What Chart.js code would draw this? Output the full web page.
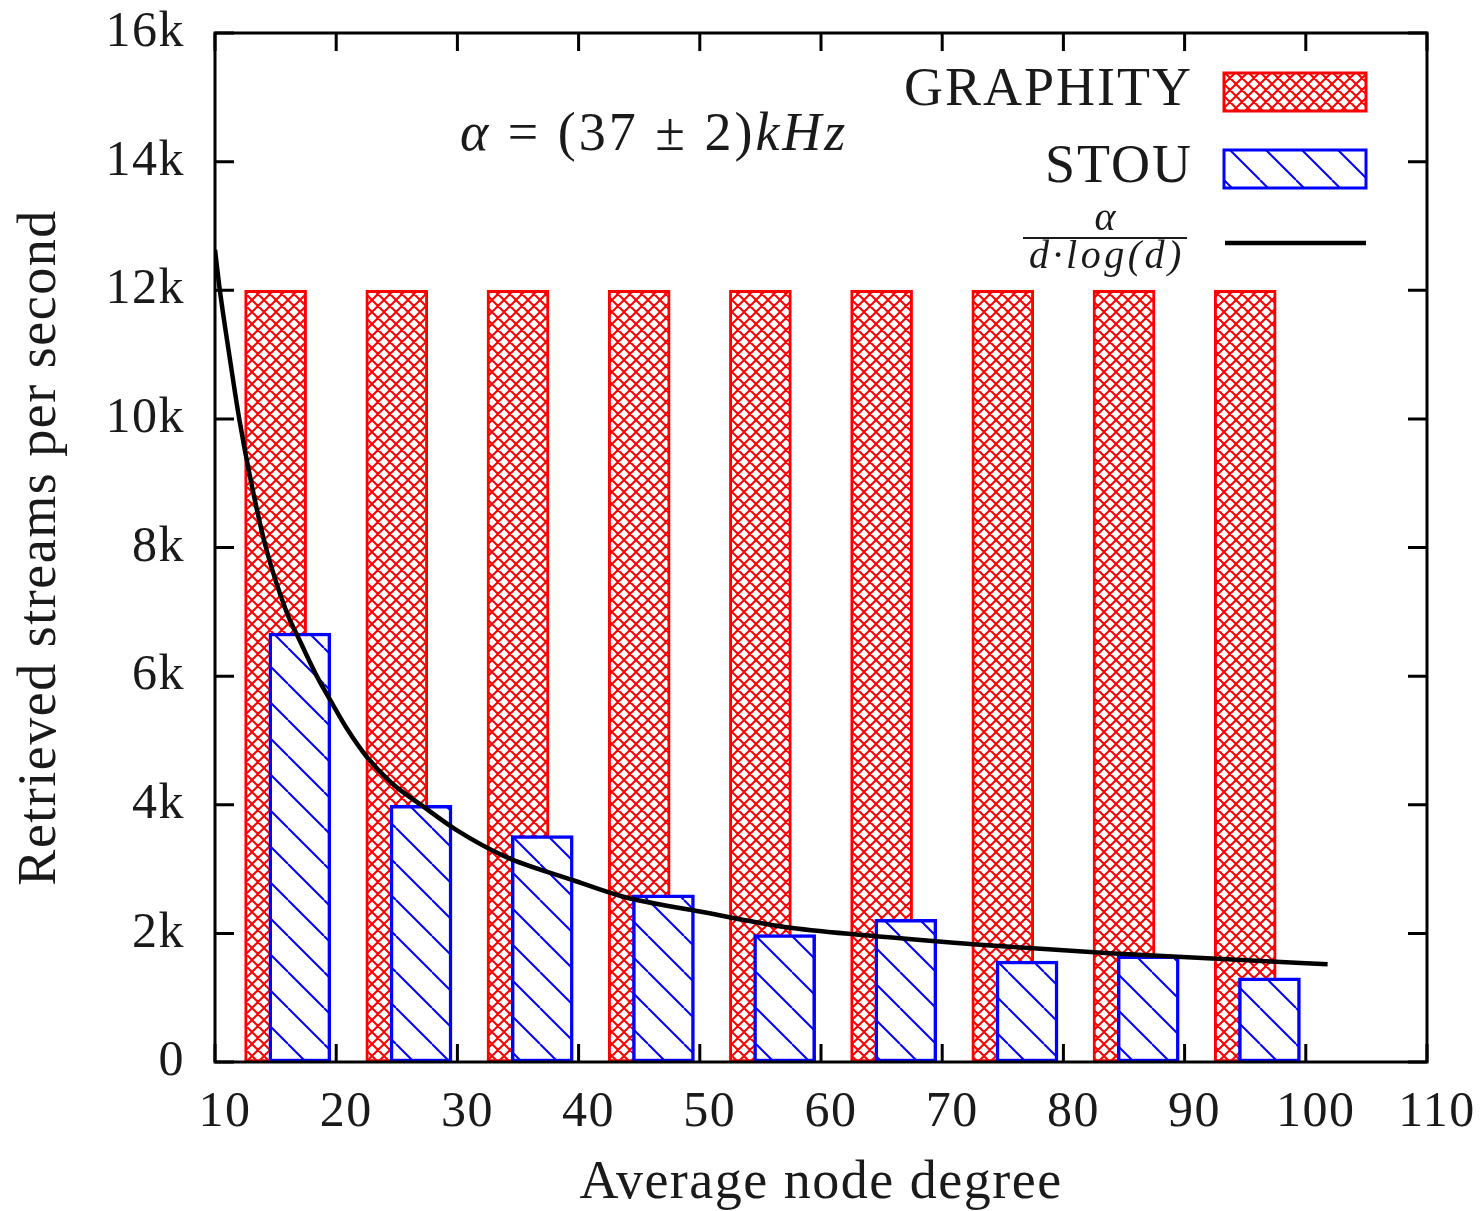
<!DOCTYPE html>
<html lang="en">
<head>
    <meta charset="UTF-8">
    <title>Retrieved streams per second</title>
    <style>
        body {
            margin: 0;
            padding: 0;
            background: #ffffff;
        }
        .chart-box {
            width: 1481px;
            height: 1211px;
            position: relative;
        }
    </style>
    <script src="https://cdn.jsdelivr.net/npm/chart.js"></script>
</head>
<body>
    <div class="chart-box">
        <canvas id="streamsChart"></canvas>
    </div>
    <script>
        // GRAPHITY bars
        const graphityDegree = [15, 25, 35, 45, 55, 65, 75, 85, 95];
        const graphityRate = [12000, 12000, 12000, 12000, 12000, 12000, 12000, 12000, 12000];

        // STOU bars
        const stouDegree = [17, 27, 37, 47, 57, 67, 77, 87, 97];
        const stouRate = [6670, 3990, 3520, 2600, 1980, 2220, 1570, 1650, 1310];

        // fitted curve alpha / (d log d)
        const fitDegree = [10, 10.4, 11.2, 12, 13, 14.2, 15.9, 17, 18.4, 19.5, 21, 22.5, 24.5, 27.2, 29.9, 34, 39.5, 43.7, 50, 57, 63.7, 73.4, 83.8, 94.3, 101.8];
        const fitRate = [12630, 12000, 10970, 10000, 9000, 8000, 7000, 6550, 6000, 5630, 5150, 4750, 4350, 3970, 3610, 3190, 2830, 2570, 2340, 2100, 1970, 1820, 1690, 1590, 1520];

        const xTicks = [10, 20, 30, 40, 50, 60, 70, 80, 90, 100, 110];
        const yTicks = [0, 2000, 4000, 6000, 8000, 10000, 12000, 14000, 16000];

        const serif = '"Liberation Serif", "Times New Roman", serif';
        const textColor = '#1a1a1a';

        const canvas = document.getElementById('streamsChart');
        const ctx = canvas.getContext('2d');

        // hatch fills like gnuplot's patterns
        function crossHatch(color, size) {
            const c = document.createElement('canvas');
            c.width = c.height = size;
            const g = c.getContext('2d');
            g.fillStyle = '#ffffff';
            g.fillRect(0, 0, size, size);
            g.strokeStyle = color;
            g.lineWidth = 2;
            g.beginPath();
            for (let k = -1; k <= 1; k++) {
                g.moveTo(k * size, 0);
                g.lineTo(k * size + size, size);
                g.moveTo(k * size + size, 0);
                g.lineTo(k * size, size);
            }
            g.stroke();
            return ctx.createPattern(c, 'repeat');
        }

        function diagHatch(color, size) {
            const c = document.createElement('canvas');
            c.width = c.height = size;
            const g = c.getContext('2d');
            g.fillStyle = '#ffffff';
            g.fillRect(0, 0, size, size);
            g.strokeStyle = color;
            g.lineWidth = 2;
            g.beginPath();
            for (let k = -1; k <= 1; k++) {
                g.moveTo(k * size, 0);
                g.lineTo(k * size + size, size);
            }
            g.stroke();
            return ctx.createPattern(c, 'repeat');
        }

        const redFill = crossHatch('#ff0000', 12);
        const blueFill = diagHatch('#0000ff', 36);

        const toPoints = (xs, ys) => xs.map((x, i) => ({x: x, y: ys[i]}));

        // Liberation Serif runs narrower than the TeX font, open it up a bit
        const spacing = {
            id: 'spacing',
            beforeLayout(chart) { chart.ctx.letterSpacing = '1.5px'; },
            beforeDraw(chart) { chart.ctx.letterSpacing = '1.5px'; }
        };

        // frame and inward ticks on all four sides
        const frameTicks = {
            id: 'frameTicks',
            afterDraw(chart) {
                const {ctx, chartArea: a, scales: {x, y}} = chart;
                ctx.save();
                ctx.strokeStyle = '#000000';
                ctx.lineWidth = 3;
                ctx.beginPath();
                xTicks.forEach(v => {
                    const px = x.getPixelForValue(v);
                    ctx.moveTo(px, a.bottom);
                    ctx.lineTo(px, a.bottom - 18);
                    ctx.moveTo(px, a.top);
                    ctx.lineTo(px, a.top + 18);
                });
                yTicks.forEach(v => {
                    const py = y.getPixelForValue(v);
                    ctx.moveTo(a.left, py);
                    ctx.lineTo(a.left + 19, py);
                    ctx.moveTo(a.right, py);
                    ctx.lineTo(a.right - 19, py);
                });
                ctx.stroke();
                ctx.strokeRect(a.left, a.top, a.right - a.left, a.bottom - a.top);
                ctx.restore();
            }
        };

        function drawRuns(ctx, runs, x, y) {
            runs.forEach(r => {
                ctx.font = r[1];
                ctx.fillText(r[0], x, y);
                x += ctx.measureText(r[0]).width;
            });
        }

        // key in the top right corner plus the alpha note
        const keyAndNote = {
            id: 'keyAndNote',
            afterDraw(chart) {
                const {ctx, chartArea: a} = chart;
                const ds = chart.data.datasets;
                ctx.save();
                ctx.fillStyle = textColor;
                ctx.textBaseline = 'alphabetic';

                const textRight = a.right - 234;
                const boxLeft = a.right - 203;
                const boxRight = a.right - 61;

                ctx.textAlign = 'right';
                ctx.letterSpacing = '2px';
                ctx.font = '54px ' + serif;
                ctx.fillText(ds[1].label, textRight, a.top + 72);
                ctx.fillText(ds[2].label, textRight, a.top + 149);

                [[ds[1], a.top + 40], [ds[2], a.top + 117]].forEach(([d, top]) => {
                    ctx.fillStyle = d.backgroundColor;
                    ctx.fillRect(boxLeft, top, boxRight - boxLeft, 38);
                    ctx.strokeStyle = d.borderColor;
                    ctx.lineWidth = 3;
                    ctx.strokeRect(boxLeft, top, boxRight - boxLeft, 38);
                });

                // fraction label for the curve
                const fracX = textRight - 88;
                ctx.fillStyle = textColor;
                ctx.textAlign = 'center';
                ctx.letterSpacing = '0px';
                ctx.font = 'italic 40px ' + serif;
                ctx.fillText('α', fracX, a.top + 197);
                ctx.fillRect(fracX - 82, a.top + 204, 164, 2);
                ctx.letterSpacing = '3.5px';
                ctx.fillText('d·log(d)', fracX + 2, a.top + 235);

                ctx.strokeStyle = ds[0].borderColor;
                ctx.lineWidth = ds[0].borderWidth;
                ctx.beginPath();
                ctx.moveTo(boxLeft + 1, a.top + 210);
                ctx.lineTo(boxRight, a.top + 210);
                ctx.stroke();

                ctx.textAlign = 'left';
                ctx.fillStyle = textColor;
                ctx.letterSpacing = '3px';
                drawRuns(ctx, [
                    ['α', 'italic 54px ' + serif],
                    [' = (37 ± 2)', '54px ' + serif],
                    ['kHz', 'italic 54px ' + serif]
                ], a.left + 245, a.top + 117);
                ctx.restore();
            }
        };

        new Chart(ctx, {
            type: 'bar',
            data: {
                datasets: [
                    {
                        type: 'line',
                        label: 'α/(d·log(d))',
                        data: toPoints(fitDegree, fitRate),
                        borderColor: '#000000',
                        borderWidth: 4.5,
                        pointRadius: 0,
                        fill: false,
                        cubicInterpolationMode: 'monotone',
                        order: 0
                    },
                    {
                        label: 'GRAPHITY',
                        data: toPoints(graphityDegree, graphityRate),
                        backgroundColor: redFill,
                        borderColor: '#ff0000',
                        borderWidth: 3,
                        borderSkipped: false,
                        barThickness: 62,
                        grouped: false,
                        order: 2
                    },
                    {
                        label: 'STOU',
                        data: toPoints(stouDegree, stouRate),
                        backgroundColor: blueFill,
                        borderColor: '#0000ff',
                        borderWidth: 3.5,
                        borderSkipped: false,
                        barThickness: 62,
                        grouped: false,
                        order: 1
                    }
                ]
            },
            options: {
                responsive: true,
                maintainAspectRatio: false,
                animation: false,
                layout: {
                    padding: {left: 0, right: 54, top: 33, bottom: 0}
                },
                plugins: {
                    legend: {display: false},
                    tooltip: {enabled: false}
                },
                scales: {
                    x: {
                        type: 'linear',
                        min: 10,
                        max: 110,
                        offset: false,
                        afterFit: s => { s.height = 149; s.paddingLeft = 0; s.paddingRight = 0; },
                        afterBuildTicks: s => { s.ticks = xTicks.map(v => ({value: v})); },
                        grid: {display: false, drawTicks: false},
                        border: {display: false},
                        ticks: {
                            color: textColor,
                            font: {family: serif, size: 50},
                            padding: 21,
                            labelOffset: 10,
                            maxRotation: 0,
                            autoSkip: false
                        },
                        title: {
                            display: true,
                            text: 'Average node degree',
                            color: textColor,
                            font: {family: serif, size: 54, lineHeight: 1},
                            padding: {top: 0, bottom: 0}
                        }
                    },
                    y: {
                        min: 0,
                        max: 16000,
                        afterFit: s => { s.width = 215; s.paddingTop = 0; s.paddingBottom = 0; },
                        afterBuildTicks: s => { s.ticks = yTicks.map(v => ({value: v})); },
                        grid: {display: false, drawTicks: false},
                        border: {display: false},
                        ticks: {
                            color: textColor,
                            font: {family: serif, size: 50},
                            padding: 30,
                            callback: v => v === 0 ? '0' : (v / 1000) + 'k'
                        },
                        title: {
                            display: true,
                            text: 'Retrieved streams per second',
                            color: textColor,
                            font: {family: serif, size: 54, lineHeight: 1},
                            padding: {top: 14, bottom: 0}
                        }
                    }
                }
            },
            plugins: [spacing, frameTicks, keyAndNote]
        });
    </script>
</body>
</html>
